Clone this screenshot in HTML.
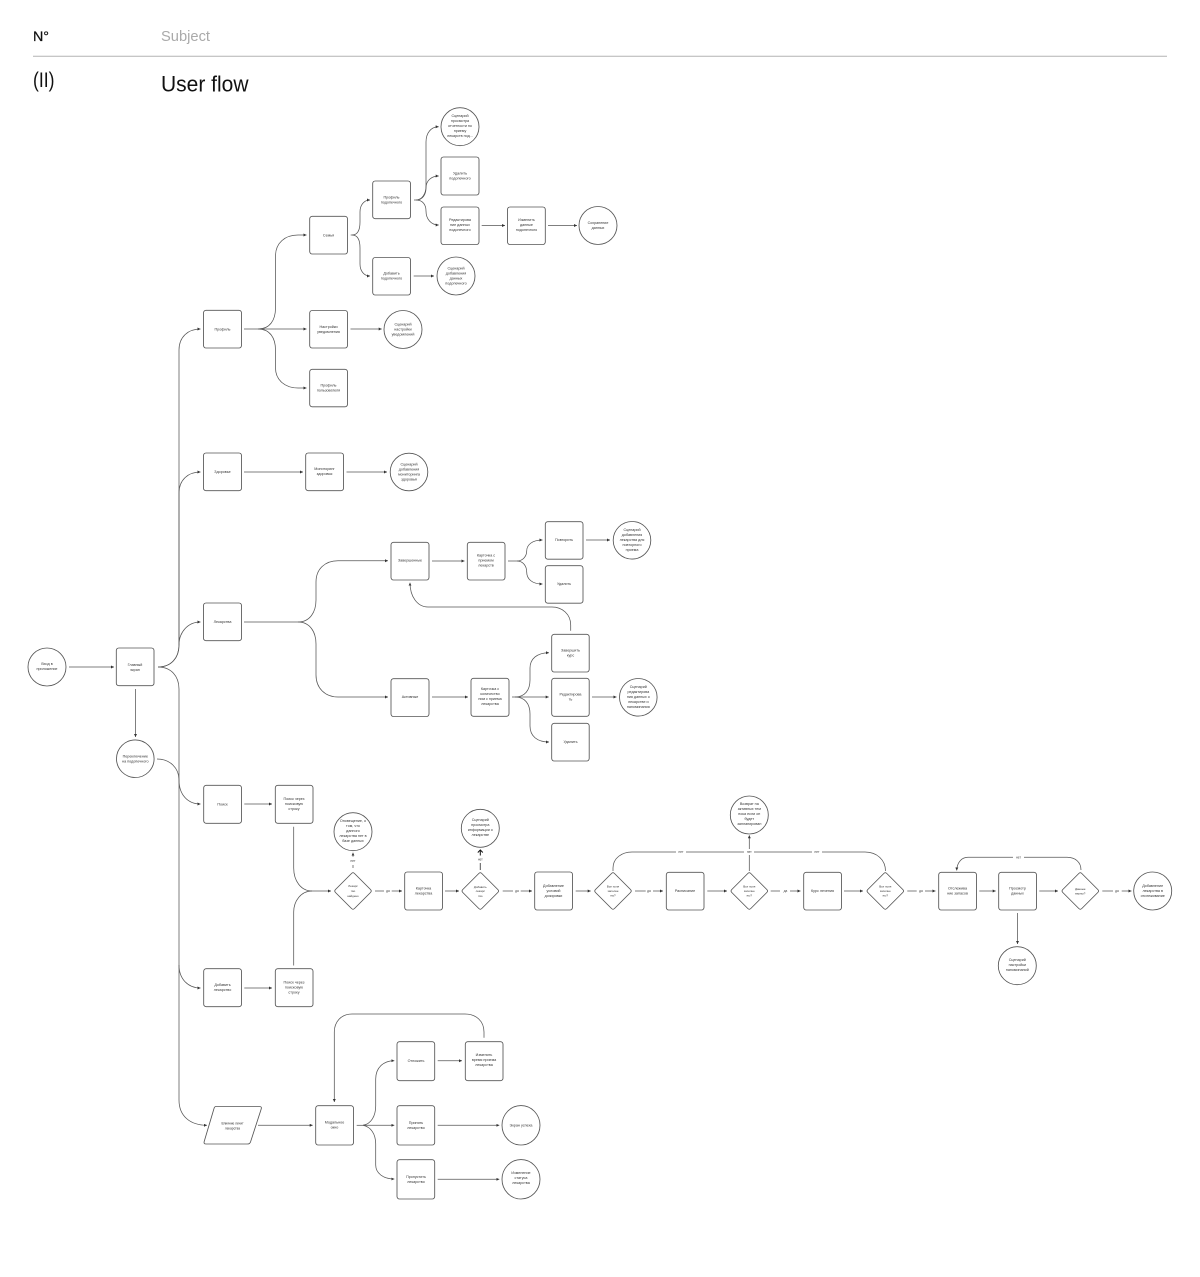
<!DOCTYPE html>
<html lang="ru">
<head>
<meta charset="utf-8">
<title>User flow</title>
<style>
html,body{margin:0;padding:0;background:#fff}
svg{display:block}
.n{fill:#fff;stroke:#555;stroke-width:.85}
.d{fill:#fff;stroke:#555;stroke-width:.85;stroke-linejoin:round}
.c{fill:none;stroke:#555;stroke-width:.75}
.a{marker-end:url(#ah)}
text{font-family:"Liberation Sans","Noto Sans CJK SC",sans-serif}
.t text,text.t{font-size:3.7px;fill:#333;text-anchor:middle}
.s text{font-size:2.9px;fill:#333;text-anchor:middle}
.l text{font-size:3.2px;fill:#444;text-anchor:middle}
</style>
</head>
<body>
<svg xmlns="http://www.w3.org/2000/svg" width="1200" height="1277" viewBox="0 0 1200 1277">
<defs>
<marker id="ah" markerUnits="userSpaceOnUse" markerWidth="4" markerHeight="4" refX="3" refY="1.5" orient="auto"><path d="M0 0L3 1.5L0 3z" fill="#333"/></marker>
<marker id="ab" markerUnits="userSpaceOnUse" markerWidth="7" markerHeight="7" refX="3" refY="3" orient="auto"><path d="M.5 .5L3 3L.5 5.5" fill="none" stroke="#111" stroke-width="1"/></marker>
<path id="dm" d="M-1.5 -17.5Q0 -19 1.5 -17.5L17.5 -1.5Q19 0 17.5 1.5L1.5 17.5Q0 19 -1.5 17.5L-17.5 1.5Q-19 0 -17.5 -1.5Z"/>
</defs>
<rect width="1200" height="1277" fill="#fff"/>

<!-- Header -->
<text x="33" y="41" font-size="14" fill="#111" stroke="#111" stroke-width=".25" textLength="16" lengthAdjust="spacingAndGlyphs">N°</text>
<text x="161" y="41" font-size="14.5" fill="#aaa" textLength="49" lengthAdjust="spacingAndGlyphs">Subject</text>
<line x1="33" y1="56.2" x2="1167" y2="56.2" stroke="#b4b4b4" stroke-width="1"/>
<text x="33" y="87" font-size="21" fill="#111" textLength="21.5" lengthAdjust="spacingAndGlyphs">(II)</text>
<text x="161" y="91.5" font-size="22" fill="#111" textLength="87.5" lengthAdjust="spacingAndGlyphs">User flow</text>

<!-- Connectors -->
<g class="c">
<path class="a" d="M69 667H114"/>
<path class="a" d="M135.5 689V737"/>
<path d="M158 667C171 667 179 658 179 645V350"/>
<path class="a" d="M179 350C179 337 188 329 200.5 329"/>
<path class="a" d="M179 645V493C179 480 188 472 200.5 472"/>
<path class="a" d="M158 667C171 667 179 658 179 645C179 632 188 622 200.5 622"/>
<path d="M158 667C171 667 179 676 179 689V1100"/>
<path d="M157 759C170 759 179 768 179 780"/>
<path class="a" d="M179 780C179 795 188 804 200.5 804"/>
<path class="a" d="M179 965C179 979 188 988 200.5 988"/>
<path class="a" d="M179 1100C179 1116 190 1125.3 207 1125.3"/>

<path d="M244 329H258"/>
<path class="a" d="M258 329C270 329 275.5 320 275.5 308V256C275.5 243 285 235 298 235H306.5"/>
<path class="a" d="M258 329H306.5"/>
<path class="a" d="M258 329C270 329 275.5 338 275.5 350V368C275.5 380 285 388 298 388H306.5"/>
<path class="a" d="M350.7 235H352C358 235 360 230 360 222V212C360 205 364 200 370 200"/>
<path class="a" d="M352 235C358 235 360 240 360 248V264C360 271 364 276 370 276"/>
<path d="M414 200H416"/>
<path class="a" d="M416 200C422 200 426 194 426 186V142C426 133 431 126.7 438.7 126.7"/>
<path class="a" d="M416 200C423 200 426 194 426 188C426 181 431 176 438.7 176"/>
<path class="a" d="M416 200C423 200 426 205 426 211C426 219 431 225 438.7 225"/>
<path class="a" d="M481.7 225.5H505"/>
<path class="a" d="M548 225.5H577"/>
<path class="a" d="M413.7 276H434"/>
<path class="a" d="M350.5 329H381.7"/>

<path class="a" d="M244 472H303"/>
<path class="a" d="M346.5 472H387"/>

<path d="M244 622H298"/>
<path class="a" d="M298 622C310 622 316 612 316 600V582C316 569 325 560.7 338 560.7H388"/>
<path class="a" d="M298 622C310 622 316 632 316 644V675C316 688 325 697 338 697H388"/>
<path class="a" d="M432 561H464.5"/>
<path d="M508 561H517"/>
<path class="a" d="M517 561C523 561 526.7 556 526.7 551C526.7 545 532 540 542.5 540"/>
<path class="a" d="M517 561C523 561 526.7 566 526.7 572C526.7 579 532 584 542.5 584"/>
<path class="a" d="M586 540H610"/>
<path class="a" d="M570.7 630.7V625C570.7 614 562 607 552 607H428C417 607 410 596 410 582.7"/>
<path class="a" d="M432 697H468"/>
<path class="a" d="M512 697H548.7"/>
<path class="a" d="M515 697C525 697 530 690 530 680V668C530 659 537 652.7 549 652.7"/>
<path class="a" d="M515 697C525 697 530 704 530 714V726C530 736 537 742 549 742"/>
<path class="a" d="M592 697H616.5"/>

<path class="a" d="M244.3 804H272"/>
<path class="a" d="M244.3 988H272"/>
<path d="M293.7 826.7V868C293.7 881 301 891 312 891"/>
<path d="M293.7 965.5V912C293.7 901 301 891 312 891"/>
<path class="a" d="M310 891H331"/>

<path d="M353 868V865"/>
<path class="a" d="M353 856.8V852.7"/>
<path d="M375 891H384"/>
<path class="a" d="M391.7 891H402"/>
<path class="a" d="M445 891H459"/>
<path d="M480.3 870V863" stroke-width="1"/>
<path d="M480.3 855.5V850" stroke="#111" stroke-width="1" marker-end="url(#ab)"/>
<path d="M502.7 891H513"/>
<path class="a" d="M520.7 891H532"/>
<path class="a" d="M575.7 891H590.7"/>
<path d="M635 891H645.7"/>
<path class="a" d="M653 891H663"/>
<path class="a" d="M707.3 891H727"/>
<path d="M770.7 891H780"/>
<path class="a" d="M790 891H800.5"/>
<path class="a" d="M844 891H863"/>
<path d="M613 871V868C613 858 622 852 632 852H865C877 852 885.5 860 885.5 871"/>
<path class="a" d="M749.3 871V835.3"/>
<path d="M907.3 891H916.7"/>
<path class="a" d="M925 891H935.5"/>
<path class="a" d="M979.3 891H995.7"/>
<path class="a" d="M1039.3 891H1058"/>
<path d="M1102.3 891H1113"/>
<path class="a" d="M1121.7 891H1131.5"/>
<path class="a" d="M1081 870C1081 862 1075 857.3 1067 857.3H968C962 857.3 957 862 956.7 870.5"/>
<path class="a" d="M1017.5 913V944"/>

<path class="a" d="M258 1125.3H312.7"/>
<path d="M356.7 1125.3H363"/>
<path class="a" d="M363 1125.3C371 1124 375.7 1116 375.7 1106V1079C375.7 1068 383 1060.7 394.3 1060.7"/>
<path class="a" d="M363 1125.3H394.3"/>
<path class="a" d="M363 1125.3C371 1127 375.7 1134 375.7 1144V1165C375.7 1173 383 1179 394.3 1179"/>
<path class="a" d="M437.7 1060.7H462"/>
<path class="a" d="M437.7 1125.3H499.3"/>
<path class="a" d="M437.7 1179.3H499.3"/>
<path class="a" d="M484 1037.7V1032C484 1021 476 1014 465 1014H352C341 1014 334.3 1022 334.3 1032V1102"/>
</g>

<!-- Edge labels -->
<g class="l">
<rect x="348" y="858" width="10" height="5" fill="#fff"/><text x="353" y="862">нет</text>
<text x="388" y="892.2">да</text>
<text x="480.3" y="860.5">нет</text>
<text x="517" y="892.2">да</text>
<text x="649" y="892.2">да</text>
<text x="785.5" y="892.2">да</text>
<text x="921" y="892.2">да</text>
<text x="1117" y="892.2">да</text>
<rect x="676" y="849" width="10" height="6" fill="#fff"/><text x="681" y="853.2">нет</text>
<rect x="744" y="849" width="10" height="6" fill="#fff"/><text x="749.3" y="853.2">нет</text>
<rect x="812" y="849" width="10" height="6" fill="#fff"/><text x="817" y="853.2">нет</text>
<rect x="1013" y="854" width="11" height="6" fill="#fff"/><text x="1018.5" y="858.5">нет</text>
</g>

<!-- Rectangles -->
<g class="n">
<rect x="116.3" y="648" width="37.7" height="37.7" rx="2.5"/>
<rect x="203.5" y="310.3" width="38" height="37.7" rx="2.5"/>
<rect x="309.7" y="216.3" width="37.8" height="37.7" rx="2.5"/>
<rect x="372.7" y="181" width="37.8" height="37.7" rx="2.5"/>
<rect x="441" y="157" width="38" height="38" rx="2.5"/>
<rect x="441" y="207" width="38" height="37.5" rx="2.5"/>
<rect x="507.5" y="207" width="37.8" height="37.5" rx="2.5"/>
<rect x="372.7" y="257.5" width="37.8" height="37.5" rx="2.5"/>
<rect x="309.7" y="310.5" width="37.8" height="37.5" rx="2.5"/>
<rect x="309.7" y="369.3" width="37.8" height="37.5" rx="2.5"/>
<rect x="203.5" y="453" width="38" height="37.7" rx="2.5"/>
<rect x="305.7" y="453" width="37.8" height="37.7" rx="2.5"/>
<rect x="203.5" y="603" width="38" height="37.7" rx="2.5"/>
<rect x="391" y="542.3" width="38" height="37.7" rx="2.5"/>
<rect x="391" y="678.7" width="38" height="37.8" rx="2.5"/>
<rect x="467.3" y="542.3" width="37.7" height="37.7" rx="2.5"/>
<rect x="545.3" y="521.7" width="37.7" height="37.5" rx="2.5"/>
<rect x="545.3" y="565.7" width="37.7" height="37.5" rx="2.5"/>
<rect x="551.7" y="634.3" width="37.5" height="37.7" rx="2.5"/>
<rect x="471" y="678.3" width="38" height="38" rx="2.5"/>
<rect x="551.7" y="678.3" width="37.5" height="38" rx="2.5"/>
<rect x="551.7" y="723.3" width="37.5" height="37.7" rx="2.5"/>
<rect x="203.7" y="785.3" width="37.8" height="38" rx="2.5"/>
<rect x="275.3" y="785.3" width="37.7" height="38" rx="2.5"/>
<rect x="203.7" y="968.7" width="37.8" height="38" rx="2.5"/>
<rect x="275.3" y="968.7" width="37.7" height="38" rx="2.5"/>
<rect x="404.7" y="872" width="37.8" height="38" rx="2.5"/>
<rect x="534.7" y="872" width="37.8" height="38" rx="2.5"/>
<rect x="666.3" y="872.3" width="37.7" height="37.7" rx="2.5"/>
<rect x="803.7" y="872.3" width="37.8" height="37.7" rx="2.5"/>
<rect x="938.7" y="872.3" width="37.8" height="37.7" rx="2.5"/>
<rect x="998.7" y="872.3" width="37.8" height="37.7" rx="2.5"/>
<rect x="315.7" y="1105.7" width="37.8" height="39.3" rx="2.5"/>
<rect x="397" y="1041.7" width="37.7" height="39" rx="2.5"/>
<rect x="465.3" y="1041.7" width="37.7" height="39" rx="2.5"/>
<rect x="397" y="1105.7" width="37.7" height="39.3" rx="2.5"/>
<rect x="397" y="1159.7" width="37.7" height="39.3" rx="2.5"/>
</g>

<!-- Circles -->
<g class="n">
<circle cx="47" cy="667" r="19"/>
<circle cx="135.3" cy="758.7" r="18.8"/>
<circle cx="460" cy="126.7" r="19"/>
<circle cx="598" cy="225.5" r="19"/>
<circle cx="456" cy="276" r="19"/>
<circle cx="403" cy="329.5" r="19"/>
<circle cx="409" cy="472" r="18.8"/>
<circle cx="632" cy="540.3" r="18.8"/>
<circle cx="638.3" cy="697.3" r="18.8"/>
<circle cx="353" cy="831.7" r="19"/>
<circle cx="480.3" cy="828.3" r="19"/>
<circle cx="749.3" cy="815" r="19"/>
<circle cx="1152.7" cy="891" r="19"/>
<circle cx="1017.3" cy="965.7" r="19"/>
<ellipse cx="521" cy="1125.3" rx="19" ry="19.7"/>
<ellipse cx="521" cy="1179.3" rx="19" ry="19.7"/>
</g>

<!-- Diamonds and parallelogram -->
<g class="d">
<use href="#dm" x="353" y="891"/>
<use href="#dm" x="480.3" y="891"/>
<use href="#dm" x="613" y="891"/>
<use href="#dm" x="749.3" y="891"/>
<use href="#dm" x="885.3" y="891"/>
<use href="#dm" x="1080.3" y="891"/>
<path d="M216 1106.5H259.5Q262 1106.5 261.2 1109L250.5 1142Q249.8 1144 247.5 1144H206Q203.5 1144 204.2 1141.5L214 1108.5Q214.5 1106.5 216 1106.5Z"/>
</g>

<!-- Node labels -->
<g class="t">
<text x="47" y="664.8">Вход в</text><text x="47" y="669.8">приложение</text>
<text x="135" y="665.8">Главный</text><text x="135" y="670.8">экран</text>
<text x="135.3" y="757.5">Переключение</text><text x="135.3" y="762.5">на подопечного</text>
<text x="222.5" y="330.3">Профиль</text>
<text x="328.5" y="236.3">Семья</text>
<text x="391.5" y="198.3">Профиль</text><text x="391.5" y="203.3">подопечного</text>
<text x="460" y="117">Сценарий</text><text x="460" y="122">просмотра</text><text x="460" y="127">отчетности по</text><text x="460" y="132">приему</text><text x="460" y="137">лекарств под...</text>
<text x="460" y="174.3">Удалить</text><text x="460" y="179.3">подопечного</text>
<text x="460" y="221">Редактирова</text><text x="460" y="226">ние данных</text><text x="460" y="231">подопечного</text>
<text x="526.5" y="221">Изменить</text><text x="526.5" y="226">данные</text><text x="526.5" y="231">подопечного</text>
<text x="598" y="224">Сохранение</text><text x="598" y="229">данных</text>
<text x="391.5" y="274.5">Добавить</text><text x="391.5" y="279.5">подопечного</text>
<text x="456" y="269.3">Сценарий</text><text x="456" y="274.3">добавления</text><text x="456" y="279.3">данных</text><text x="456" y="284.3">подопечного</text>
<text x="328.5" y="327.8">Настройки</text><text x="328.5" y="332.8">уведомления</text>
<text x="403" y="325.3">Сценарий</text><text x="403" y="330.3">настройки</text><text x="403" y="335.3">уведомлений</text>
<text x="328.5" y="386.5">Профиль</text><text x="328.5" y="391.5">пользователя</text>
<text x="222.5" y="473">Здоровье</text>
<text x="324.5" y="470">Мониторинг</text><text x="324.5" y="475">здоровья</text>
<text x="409" y="465.5">Сценарий</text><text x="409" y="470.5">добавления</text><text x="409" y="475.5">мониторинга</text><text x="409" y="480.5">здоровья</text>
<text x="222.5" y="623">Лекарства</text>
<text x="410" y="561.5">Завершенные</text>
<text x="410" y="698">Активные</text>
<text x="486" y="556.3">Карточка с</text><text x="486" y="561.3">приемом</text><text x="486" y="566.3">лекарств</text>
<text x="564" y="541">Повторить</text>
<text x="564" y="585">Удалить</text>
<text x="632" y="531">Сценарий</text><text x="632" y="536">добавления</text><text x="632" y="541">лекарства для</text><text x="632" y="546">повторного</text><text x="632" y="551">приема</text>
<text x="570.5" y="651.5">Завершить</text><text x="570.5" y="656.5">курс</text>
<text x="490" y="690">Карточка с</text><text x="490" y="695">количество</text><text x="490" y="700">ним с приема</text><text x="490" y="705">лекарства</text>
<text x="570.5" y="695.5">Редактирова</text><text x="570.5" y="700.5">ть</text>
<text x="570.5" y="743">Удалить</text>
<text x="638.3" y="688">Сценарий</text><text x="638.3" y="693">редактирова</text><text x="638.3" y="698">ния данных о</text><text x="638.3" y="703">лекарстве и</text><text x="638.3" y="708">напоминания</text>
<text x="222.5" y="805.3">Поиск</text>
<text x="294" y="800">Поиск через</text><text x="294" y="805">поисковую</text><text x="294" y="810">строку</text>
<text x="222.5" y="986">Добавить</text><text x="222.5" y="991">лекарство</text>
<text x="294" y="983.5">Поиск через</text><text x="294" y="988.5">поисковую</text><text x="294" y="993.5">строку</text>
<text x="353" y="822">Оповещение, о</text><text x="353" y="827">том, что</text><text x="353" y="832">данного</text><text x="353" y="837">лекарства нет в</text><text x="353" y="842">базе данных</text>
<text x="423.5" y="889.3">Карточка</text><text x="423.5" y="894.3">лекарства</text>
<text x="480.3" y="821">Сценарий</text><text x="480.3" y="826">просмотра</text><text x="480.3" y="831">информации о</text><text x="480.3" y="836">лекарстве</text>
<text x="553.5" y="887">Добавление</text><text x="553.5" y="892">условий</text><text x="553.5" y="897">дозировки</text>
<text x="685" y="892">Расписание</text>
<text x="822.5" y="892">Курс лечения</text>
<text x="749.3" y="805">Возврат на</text><text x="749.3" y="810">активных тем</text><text x="749.3" y="815">пока если он</text><text x="749.3" y="820">будет</text><text x="749.3" y="825">запланирован</text>
<text x="957.5" y="889.5">Отслежива</text><text x="957.5" y="894.5">ние запасов</text>
<text x="1017.5" y="889.5">Просмотр</text><text x="1017.5" y="894.5">данных</text>
<text x="1152.7" y="887">Добавление</text><text x="1152.7" y="892">лекарства в</text><text x="1152.7" y="897">отслеживание</text>
<text x="1017.3" y="961">Сценарий</text><text x="1017.3" y="966">настройки</text><text x="1017.3" y="971">напоминаний</text>
<text x="232.5" y="1124.3" font-size="3.2" style="font-size:3.2px">Влияние лечит</text><text x="232.5" y="1129.3" style="font-size:3.2px">лекарства</text>
<text x="334.5" y="1123.5">Модальное</text><text x="334.5" y="1128.5">окно</text>
<text x="416" y="1061.8">Отложить</text>
<text x="484" y="1056">Изменить</text><text x="484" y="1061">время приема</text><text x="484" y="1066">лекарства</text>
<text x="416" y="1123.8">Принять</text><text x="416" y="1128.8">лекарство</text>
<text x="416" y="1177.8">Пропустить</text><text x="416" y="1182.8">лекарство</text>
<text x="521" y="1126.5">Экран успеха</text>
<text x="521" y="1174">Изменение</text><text x="521" y="1179">статуса</text><text x="521" y="1184">лекарства</text>
</g>
<g class="s">
<text x="353" y="887">Лекарс</text><text x="353" y="892">тво</text><text x="353" y="897">найдено</text>
<text x="480.3" y="888">Добавить</text><text x="480.3" y="892">лекарс</text><text x="480.3" y="897">тво</text>
<text x="613" y="887.5">Все поля</text><text x="613" y="892">заполне</text><text x="613" y="896.5">ны?</text>
<text x="749.3" y="887.5">Все поля</text><text x="749.3" y="892">заполне</text><text x="749.3" y="896.5">ны?</text>
<text x="885.3" y="887.5">Все поля</text><text x="885.3" y="892">заполне</text><text x="885.3" y="896.5">ны?</text>
<text x="1080.3" y="890">Данные</text><text x="1080.3" y="894.5">верны?</text>
</g>
</svg>
</body>
</html>
